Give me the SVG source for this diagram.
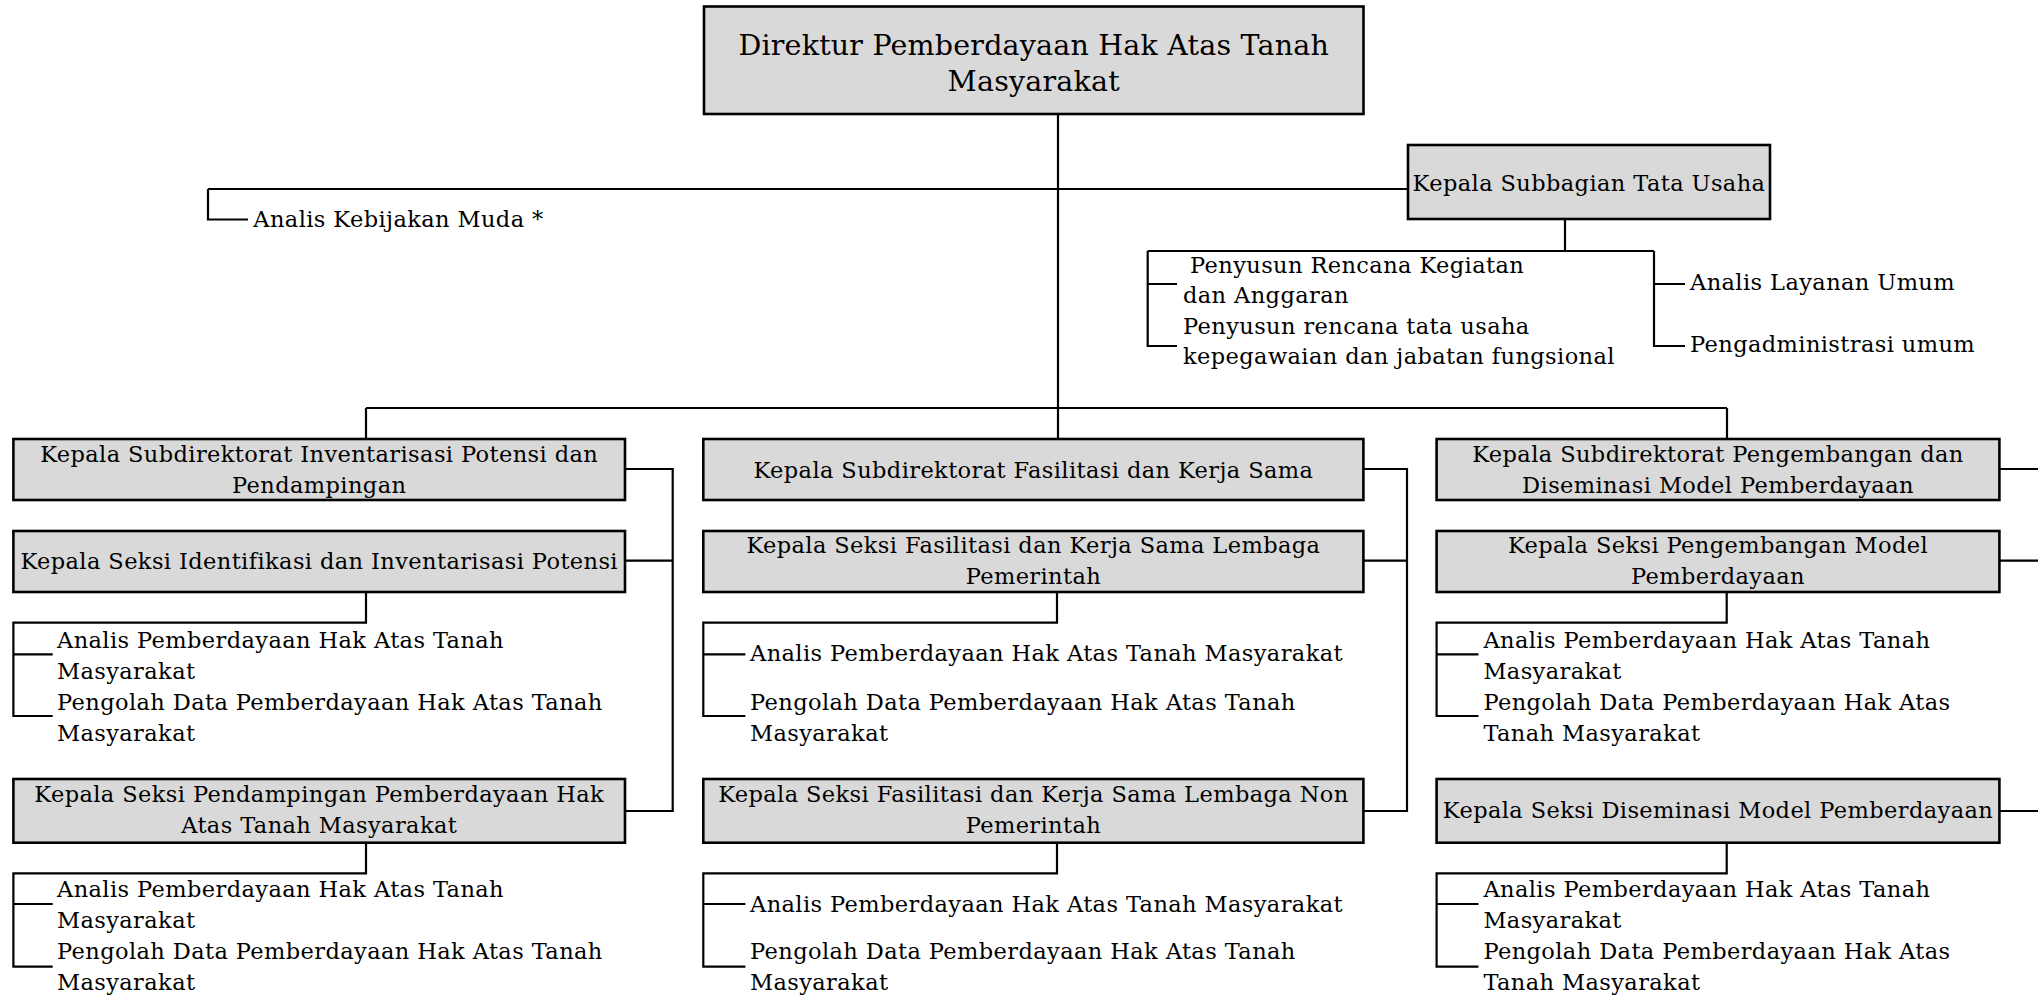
<svg xmlns="http://www.w3.org/2000/svg" width="2038" height="998" viewBox="0 0 2038 998">
<style>
.box{fill:#d9d9d9;stroke:#000;stroke-width:2.6}
.ln{fill:none;stroke:#000;stroke-width:2.2}
text{font-family:"DejaVu Serif","Liberation Serif",serif;font-size:22.5px;letter-spacing:0.4px;fill:#000}
.t{font-size:28.5px;letter-spacing:0.2px}
.c{text-anchor:middle}
</style>
<rect width="2038" height="998" fill="#fff"/>
<g id="connectors" class="ln">
<path d="M1058 114V439"/>
<path d="M208 189H1408"/>
<path d="M208 189V219.5H248"/>
<path d="M1565 219V251"/>
<path d="M1147.7 251H1654"/>
<path d="M1147.7 251V346H1177M1147.7 284H1177"/>
<path d="M1654 251V346H1685M1654 284H1685"/>
<path d="M366 408H1727"/>
<path d="M366 408V439M1727 408V439"/>
<path d="M625 469H672.7V811H625M625 560.7H672.7"/>
<path d="M1363.4 469H1407V811H1363.4M1363.4 560.7H1407"/>
<path d="M1999.4 469H2038M1999.4 560.7H2038M1999.4 811H2038"/>
<path d="M366 592V622.7H13.4V716H52.7M13.4 654.3H52.7"/>
<path d="M366 842.7V873.3H13.4V966.7H52.7M13.4 904H52.7"/>
<path d="M1057 592V622.7H703.3V716H745.4M703.3 654.3H745.4"/>
<path d="M1057 842.7V873.3H703.3V966.7H745.4M703.3 904H745.4"/>
<path d="M1726.7 592V622.7H1436.6V716H1478.5M1436.6 654.3H1478.5"/>
<path d="M1726.7 842.7V873.3H1436.6V966.7H1478.5M1436.6 904H1478.5"/>
</g>
<g id="direktur">
<rect class="box" x="704" y="6.5" width="659.5" height="107.5"/>
<text class="t c" x="1033.7" y="55">Direktur Pemberdayaan Hak Atas Tanah</text>
<text class="t c" x="1033.7" y="91">Masyarakat</text>
</g>
<g id="analis-kebijakan">
<text x="253.3" y="227">Analis Kebijakan Muda *</text>
</g>
<g id="subbagian-tu">
<rect class="box" x="1408" y="145" width="362" height="74"/>
<text class="c" x="1589" y="191">Kepala Subbagian Tata Usaha</text>
</g>
<g id="tu-staff">
<text x="1190" y="273">Penyusun Rencana Kegiatan</text>
<text x="1183" y="303">dan Anggaran</text>
<text x="1183" y="334">Penyusun rencana tata usaha</text>
<text x="1183" y="364">kepegawaian dan jabatan fungsional</text>
<text x="1690" y="290">Analis Layanan Umum</text>
<text x="1690" y="352">Pengadministrasi umum</text>
</g>
<g id="subdit-inventarisasi">
<rect class="box" x="13.4" y="439" width="611.6" height="61"/>
<text class="c" x="319.2" y="462">Kepala Subdirektorat Inventarisasi Potensi dan</text>
<text class="c" x="319.2" y="493">Pendampingan</text>
</g>
<g id="seksi-identifikasi">
<rect class="box" x="13.4" y="531" width="611.6" height="61"/>
<text class="c" x="319.2" y="569">Kepala Seksi Identifikasi dan Inventarisasi Potensi</text>
</g>
<g id="staff-identifikasi">
<text x="57" y="648">Analis Pemberdayaan Hak Atas Tanah</text>
<text x="57" y="679">Masyarakat</text>
<text x="57" y="710">Pengolah Data Pemberdayaan Hak Atas Tanah</text>
<text x="57" y="741">Masyarakat</text>
</g>
<g id="seksi-pendampingan">
<rect class="box" x="13.4" y="779" width="611.6" height="63.7"/>
<text class="c" x="319.2" y="802">Kepala Seksi Pendampingan Pemberdayaan Hak</text>
<text class="c" x="319.2" y="833">Atas Tanah Masyarakat</text>
</g>
<g id="staff-pendampingan">
<text x="57" y="897">Analis Pemberdayaan Hak Atas Tanah</text>
<text x="57" y="928">Masyarakat</text>
<text x="57" y="959">Pengolah Data Pemberdayaan Hak Atas Tanah</text>
<text x="57" y="990">Masyarakat</text>
</g>
<g id="subdit-fasilitasi">
<rect class="box" x="703.3" y="439" width="660.1" height="61"/>
<text class="c" x="1033.4" y="478">Kepala Subdirektorat Fasilitasi dan Kerja Sama</text>
</g>
<g id="seksi-lembaga-pemerintah">
<rect class="box" x="703.3" y="531" width="660.1" height="61"/>
<text class="c" x="1033.4" y="553">Kepala Seksi Fasilitasi dan Kerja Sama Lembaga</text>
<text class="c" x="1033.4" y="584">Pemerintah</text>
</g>
<g id="staff-lembaga-pemerintah">
<text x="750" y="661">Analis Pemberdayaan Hak Atas Tanah Masyarakat</text>
<text x="750" y="710">Pengolah Data Pemberdayaan Hak Atas Tanah</text>
<text x="750" y="741">Masyarakat</text>
</g>
<g id="seksi-lembaga-non-pemerintah">
<rect class="box" x="703.3" y="779" width="660.1" height="63.7"/>
<text class="c" x="1033.4" y="802">Kepala Seksi Fasilitasi dan Kerja Sama Lembaga Non</text>
<text class="c" x="1033.4" y="833">Pemerintah</text>
</g>
<g id="staff-lembaga-non-pemerintah">
<text x="750" y="912">Analis Pemberdayaan Hak Atas Tanah Masyarakat</text>
<text x="750" y="959">Pengolah Data Pemberdayaan Hak Atas Tanah</text>
<text x="750" y="990">Masyarakat</text>
</g>
<g id="subdit-pengembangan">
<rect class="box" x="1436.6" y="439" width="562.8" height="61"/>
<text class="c" x="1718" y="462">Kepala Subdirektorat Pengembangan dan</text>
<text class="c" x="1718" y="493">Diseminasi Model Pemberdayaan</text>
</g>
<g id="seksi-pengembangan">
<rect class="box" x="1436.6" y="531" width="562.8" height="61"/>
<text class="c" x="1718" y="553">Kepala Seksi Pengembangan Model</text>
<text class="c" x="1718" y="584">Pemberdayaan</text>
</g>
<g id="staff-pengembangan">
<text x="1483.4" y="648">Analis Pemberdayaan Hak Atas Tanah</text>
<text x="1483.4" y="679">Masyarakat</text>
<text x="1483.4" y="710">Pengolah Data Pemberdayaan Hak Atas</text>
<text x="1483.4" y="741">Tanah Masyarakat</text>
</g>
<g id="seksi-diseminasi">
<rect class="box" x="1436.6" y="779" width="562.8" height="63.7"/>
<text class="c" x="1718" y="818">Kepala Seksi Diseminasi Model Pemberdayaan</text>
</g>
<g id="staff-diseminasi">
<text x="1483.4" y="897">Analis Pemberdayaan Hak Atas Tanah</text>
<text x="1483.4" y="928">Masyarakat</text>
<text x="1483.4" y="959">Pengolah Data Pemberdayaan Hak Atas</text>
<text x="1483.4" y="990">Tanah Masyarakat</text>
</g>
</svg>
